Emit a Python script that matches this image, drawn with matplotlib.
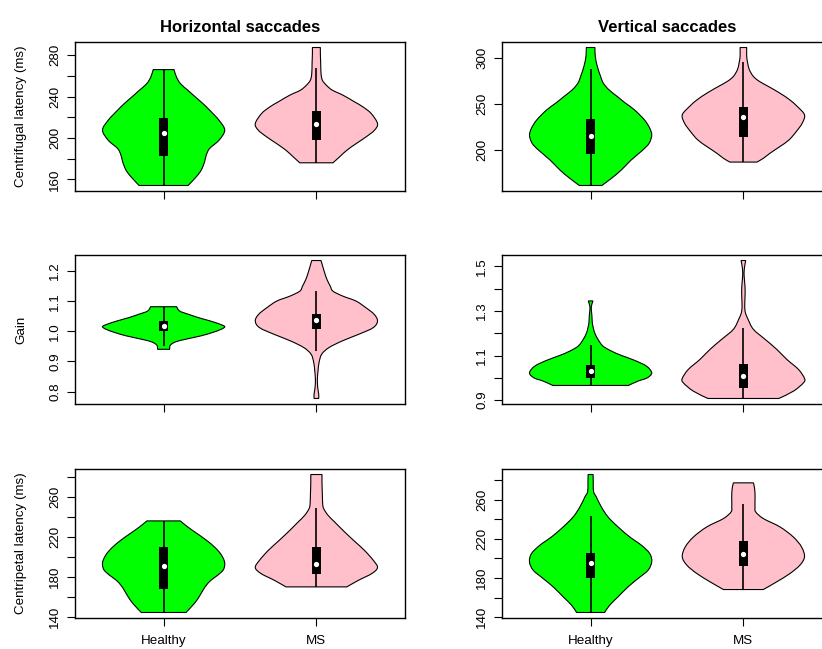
import matplotlib
matplotlib.use("Agg")
import matplotlib.pyplot as plt
import numpy as np
from matplotlib.patches import Rectangle, PathPatch
from matplotlib.path import Path

plt.rcParams["font.family"] = ["Liberation Sans", "DejaVu Sans"]

col_titles = ["Horizontal saccades", "Vertical saccades"]
row_labels = ["Centrifugal latency (ms)", "Gain", "Centripetal latency (ms)"]
groups = ["Healthy", "MS"]
fill_colors = ["#00ff00", "#ffc0cb"]

# violin outlines: y levels (top -> bottom) and relative density
# box stats: [lower whisker, q1, median, q3, upper whisker]

# horizontal, centrifugal latency
hcf_healthy_y = [266.1, 259.1, 252.6, 246.2, 239.8, 233.3, 226.9, 217.2, 207.6, 197.9,
                 189.9, 183.5, 177.0, 169.0, 162.5, 154.2]
hcf_healthy_d = [31, 38, 50, 72, 94, 117, 137, 165, 182, 165, 137, 127, 122, 112, 97, 73]
hcf_healthy_box = [154.2, 182.8, 204.7, 219.8, 266.1]
hcf_ms_y = [287.4, 281.6, 271.9, 262.3, 255.9, 251.0, 246.2, 241.4, 234.9, 230.1,
            223.7, 214.0, 207.6, 201.2, 194.7, 188.3, 181.9, 176.1]
hcf_ms_d = [12, 12, 13, 14, 18, 30, 48, 80, 115, 140, 165, 184, 175, 150, 120, 92, 70, 50]
hcf_ms_box = [176.1, 197.9, 214.0, 226.2, 268.1]

# vertical, centrifugal latency
vcf_healthy_y = [311.3, 301.8, 290.9, 279.9, 272.6, 265.3, 258.0, 250.7, 243.4, 232.5,
                 223.4, 215.7, 206.9, 199.6, 188.7, 177.7, 168.6, 161.0]
vcf_healthy_d = [13, 14, 20, 30, 38, 55, 80, 105, 132, 162, 178, 184, 176, 157, 122, 92, 62, 34]
vcf_healthy_box = [161.0, 195.3, 215.3, 233.2, 288.0]
vcf_ms_y = [311.3, 301.8, 294.5, 287.2, 279.9, 274.5, 269.0, 261.7, 254.4, 247.1,
            238.0, 228.8, 219.7, 210.6, 203.3, 196.0, 190.5, 186.5]
vcf_ms_d = [10, 10, 13, 18, 30, 48, 75, 110, 140, 163, 185, 178, 160, 138, 110, 80, 60, 41]
vcf_ms_box = [186.5, 213.5, 235.4, 246.7, 296.0]

# horizontal, gain
hg_healthy_y = [1.0818, 1.0674, 1.0564, 1.0453, 1.0343, 1.0232, 1.0155, 1.0066, 0.9956,
                0.9845, 0.9735, 0.9646, 0.9536, 0.9403]
hg_healthy_d = [39, 48, 75, 105, 140, 170, 183, 172, 145, 110, 65, 35, 20, 18]
hg_healthy_box = [0.9514, 1.0011, 1.0166, 1.0331, 1.0818]
hg_ms_y = [1.2354, 1.2166, 1.1945, 1.1724, 1.1503, 1.1337, 1.1171, 1.1006, 1.0785, 1.0564,
           1.0343, 1.0122, 0.9901, 0.9680, 0.9459, 0.9238, 0.8961, 0.8685, 0.8409, 0.8133,
           0.7912, 0.7768]
hg_ms_d = [14, 19, 25, 32, 42, 50, 80, 120, 150, 175, 185, 172, 128, 78, 38, 16, 8, 5, 3, 4, 7, 7]
hg_ms_box = [0.9337, 1.0077, 1.0387, 1.0575, 1.1326]

# vertical, gain
vg_healthy_y = [1.3453, 1.3258, 1.3078, 1.2778, 1.2478, 1.2253, 1.2028, 1.1729, 1.1429,
                1.1204, 1.1009, 1.0784, 1.0529, 1.0229, 1.0004, 0.9855, 0.9660]
vg_healthy_d = [7, 3, 2, 4, 5, 8, 12, 22, 37, 62, 92, 132, 167, 183, 170, 142, 113]
vg_healthy_box = [0.9660, 0.9990, 1.0289, 1.0589, 1.1459]
vg_ms_y = [1.5267, 1.5027, 1.4727, 1.4427, 1.4052, 1.3678, 1.3228, 1.2928, 1.2628, 1.2178,
           1.1729, 1.1279, 1.0829, 1.0379, 0.9975, 0.9780, 0.9405, 0.9075]
vg_ms_d = [7, 4, 2, 3, 5, 5, 4, 6, 14, 30, 65, 100, 130, 165, 183, 180, 150, 106]
vg_ms_box = [0.9075, 0.9525, 1.0064, 1.0634, 1.2238]

# horizontal, centripetal latency
hcp_healthy_y = [236.3, 230.3, 223.7, 217.0, 210.3, 203.7, 197.0, 192.0, 187.0, 182.0,
                 177.0, 172.0, 167.0, 160.3, 153.7, 144.7]
hcp_healthy_d = [50, 72, 100, 128, 152, 170, 181, 183, 178, 162, 142, 128, 118, 106, 92, 67]
hcp_healthy_box = [144.7, 168.3, 191.0, 209.7, 236.3]
hcp_ms_y = [282.7, 273.7, 263.7, 253.7, 248.7, 242.0, 235.3, 227.0, 217.0, 207.0,
            197.0, 189.7, 183.7, 177.0, 170.3]
hcp_ms_d = [17, 17, 18, 19, 22, 35, 55, 80, 112, 145, 172, 185, 168, 128, 92]
hcp_ms_box = [170.3, 183.3, 193.3, 210.3, 249.7]

# vertical, centripetal latency
vcp_healthy_y = [285.5, 276.3, 267.8, 262.7, 252.5, 242.3, 232.1, 221.9, 213.4, 204.9,
                 196.4, 187.9, 179.4, 170.9, 160.7, 152.2, 144.8]
vcp_healthy_d = [7.5, 8, 9, 17, 32, 52, 82, 117, 152, 177, 183, 172, 142, 112, 82, 57, 42]
vcp_healthy_box = [144.8, 179.8, 195.4, 205.6, 243.3]
vcp_ms_y = [277.0, 272.9, 266.1, 259.3, 252.5, 247.4, 240.6, 232.1, 221.9, 211.7,
            201.5, 193.0, 184.5, 176.0, 168.2]
vcp_ms_d = [30, 33, 35, 35, 35, 37, 60, 110, 150, 175, 184, 170, 140, 100, 60]
vcp_ms_box = [168.2, 191.7, 204.9, 217.8, 255.2]

# y ticks per panel (labels left blank where R dropped them)
latency_ticks = [140, 160, 180, 200, 220, 240, 260, 280]
latency_labels = ["140", "", "180", "", "220", "", "260", ""]
hcf_ticks = [160, 180, 200, 220, 240, 260, 280]
hcf_labels = ["160", "", "200", "", "240", "", "280"]
vcf_ticks = [200, 250, 300]
vcf_labels = ["200", "250", "300"]
hg_ticks = [0.8, 0.9, 1.0, 1.1, 1.2]
hg_labels = ["0.8", "0.9", "1.0", "1.1", "1.2"]
vg_ticks = [0.9, 1.0, 1.1, 1.2, 1.3, 1.4, 1.5]
vg_labels = ["0.9", "", "1.1", "", "1.3", "", "1.5"]

panels = [
    [(hcf_healthy_y, hcf_healthy_d, hcf_healthy_box, hcf_ms_y, hcf_ms_d, hcf_ms_box, hcf_ticks, hcf_labels),
     (vcf_healthy_y, vcf_healthy_d, vcf_healthy_box, vcf_ms_y, vcf_ms_d, vcf_ms_box, vcf_ticks, vcf_labels)],
    [(hg_healthy_y, hg_healthy_d, hg_healthy_box, hg_ms_y, hg_ms_d, hg_ms_box, hg_ticks, hg_labels),
     (vg_healthy_y, vg_healthy_d, vg_healthy_box, vg_ms_y, vg_ms_d, vg_ms_box, vg_ticks, vg_labels)],
    [(hcp_healthy_y, hcp_healthy_d, hcp_healthy_box, hcp_ms_y, hcp_ms_d, hcp_ms_box, latency_ticks, latency_labels),
     (vcp_healthy_y, vcp_healthy_d, vcp_healthy_box, vcp_ms_y, vcp_ms_d, vcp_ms_box, latency_ticks, latency_labels)],
]

W, H = 822, 649
HALF_WIDTH = 0.4
BOX_HALF = 0.03
col_left = [75, 502]   # pixels
row_top = [42, 255, 469]
ax_w, ax_h = 330, 149


def curve_through(pts):
    """Bezier segments (Catmull-Rom style) running through the given points."""
    n = len(pts)
    verts, codes = [], []
    for i in range(n - 1):
        p0 = pts[max(i - 1, 0)]
        p1, p2 = pts[i], pts[i + 1]
        p3 = pts[min(i + 2, n - 1)]
        verts += [p1 + (p2 - p0) / 6, p2 - (p3 - p1) / 6, p2]
        codes += [Path.CURVE4] * 3
    return verts, codes


def draw_violin(ax, at, y, dens, box, color):
    y = np.asarray(y, float)
    w = np.asarray(dens, float)
    w = w / w.max() * HALF_WIDTH
    left = np.column_stack([at - w, y])
    right = np.column_stack([at + w, y])[::-1]

    verts, codes = [left[0]], [Path.MOVETO]
    v, c = curve_through(left)
    verts += v; codes += c
    verts.append(right[0]); codes.append(Path.LINETO)   # flat bottom
    v, c = curve_through(right)
    verts += v; codes += c
    verts.append(left[0]); codes.append(Path.CLOSEPOLY)  # flat top
    ax.add_patch(PathPatch(Path(verts, codes), facecolor=color, edgecolor="black",
                           linewidth=0.8, zorder=2))

    lo, q1, med, q3, hi = box
    ax.vlines(at, lo, hi, color="black", linewidth=1.2, zorder=3)
    ax.add_patch(Rectangle((at - BOX_HALF, q1), 2 * BOX_HALF, q3 - q1,
                           facecolor="black", edgecolor="none", zorder=4))
    ax.plot(at, med, "o", color="white", markersize=3.8, markeredgewidth=0, zorder=5)


fig = plt.figure(figsize=(W / 100, H / 100), dpi=100)

for r in range(3):
    for c in range(2):
        hy, hd, hb, my, md, mb, ticks, labels = panels[r][c]
        ax = fig.add_axes([col_left[c] / W, 1 - (row_top[r] + ax_h) / H, ax_w / W, ax_h / H])
        draw_violin(ax, 1, hy, hd, hb, fill_colors[0])
        draw_violin(ax, 2, my, md, mb, fill_colors[1])

        lo = min(min(hy), min(my))
        hi = max(max(hy), max(my))
        pad = 0.04 * (hi - lo)
        ax.set_ylim(lo - pad, hi + pad)
        ax.set_xlim(0.42, 2.58)

        ax.set_yticks(ticks)
        ax.set_yticklabels(labels, rotation=90, va="center")
        ax.set_xticks([1, 2])
        if r == 2:
            ax.set_xticklabels(groups)
        else:
            ax.set_xticklabels(["", ""])

        ax.tick_params(axis="both", direction="out", length=6, width=0.8,
                       labelsize=9.6, colors="black")
        ax.tick_params(axis="y", pad=4)
        ax.tick_params(axis="x", pad=6.5)
        for sp in ax.spines.values():
            sp.set_linewidth(1.0)

        if r == 0:
            ax.set_title(col_titles[c], fontsize=12, fontweight="bold", pad=7)
        if c == 0:
            ax.set_ylabel(row_labels[r], fontsize=9.6)
            ax.yaxis.set_label_coords(-0.145, 0.5)

fig.savefig("out.png", dpi=100)
